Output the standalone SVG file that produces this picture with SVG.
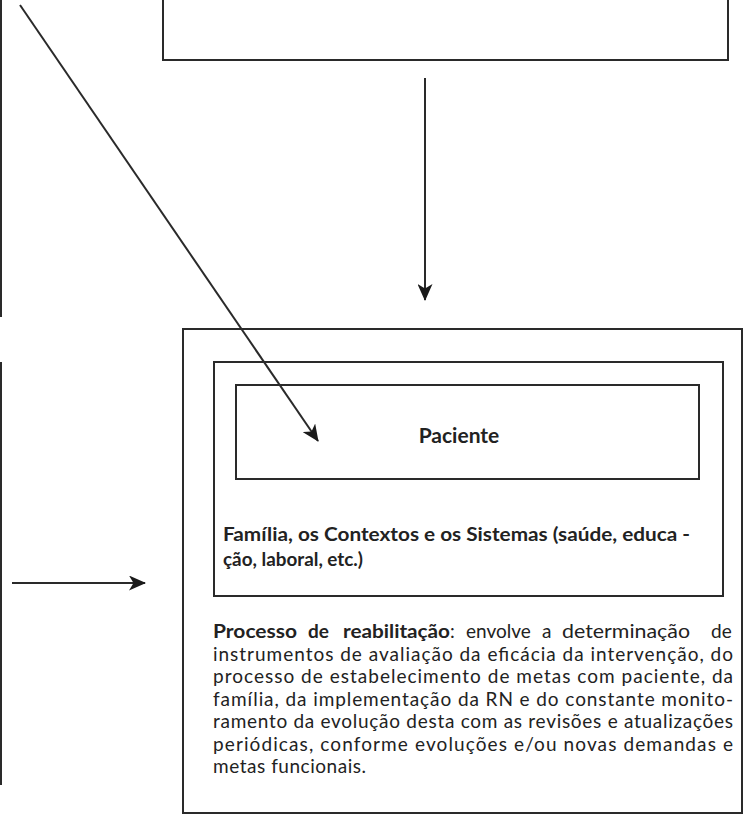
<svg xmlns="http://www.w3.org/2000/svg" width="744" height="815" viewBox="0 0 744 815">
<defs>
<style>
.box{fill:none;stroke:#2a2a2a;stroke-width:2}
.edge{fill:none;stroke:#2a2a2a;stroke-width:2}
.t{font-family:Lato,"Open Sans","Liberation Sans",sans-serif;fill:#222;font-size:19px}
.b{font-weight:bold}
</style>
<marker id="ah" viewBox="0 0 17 15" refX="16" refY="7.5" markerWidth="17" markerHeight="15" markerUnits="userSpaceOnUse" orient="auto">
<path d="M0,0 L17,7.5 L0,15 L4.5,7.5 Z" fill="#1a1a1a"/>
</marker>
</defs>
<rect width="744" height="815" fill="#fff"/>
<g id="top-box"><rect class="box" x="163" y="-20" width="565" height="80"/></g>
<g id="left-box-1"><line class="box" x1="1" y1="0" x2="1" y2="317"/></g>
<g id="left-box-2"><line class="box" x1="1" y1="362" x2="1" y2="785"/></g>
<g id="processo">
<rect class="box" x="183" y="329" width="559" height="484"/>
<text class="t"><tspan class="b" x="213" y="638" textLength="84" lengthAdjust="spacingAndGlyphs">Processo</tspan><tspan class="b" x="308" y="638">de</tspan><tspan class="b" x="343" y="638" textLength="107" lengthAdjust="spacingAndGlyphs">reabilitação</tspan><tspan>:</tspan><tspan x="466" y="638">envolve</tspan><tspan x="542" y="638">a</tspan><tspan x="562" y="638" textLength="128" lengthAdjust="spacingAndGlyphs">determinação</tspan><tspan x="711" y="638">de</tspan></text>
<text class="t" x="213" y="661" textLength="520" lengthAdjust="spacing">instrumentos de avaliação da eficácia da intervenção, do</text>
<text class="t" x="213" y="683" textLength="520" lengthAdjust="spacing">processo de estabelecimento de metas com paciente, da</text>
<text class="t" x="213" y="706" textLength="520" lengthAdjust="spacing">família, da implementação da RN e do constante monito-</text>
<text class="t" x="213" y="728" textLength="520" lengthAdjust="spacing">ramento da evolução desta com as revisões e atualizações</text>
<text class="t" x="213" y="751" textLength="520" lengthAdjust="spacing">periódicas, conforme evoluções e/ou novas demandas e</text>
<text class="t" x="213" y="773" textLength="153" lengthAdjust="spacing">metas funcionais.</text>
</g>
<g id="familia">
<rect class="box" x="214" y="362" width="509" height="234"/>
<text class="t b" x="223" y="541" textLength="467" lengthAdjust="spacingAndGlyphs">Família, os Contextos e os Sistemas (saúde, educa -</text>
<text class="t b" x="223" y="566" textLength="140" lengthAdjust="spacingAndGlyphs">ção, laboral, etc.)</text>
</g>
<g id="paciente">
<rect class="box" x="236" y="385" width="463" height="94"/>
<text class="t b" x="459" y="443" text-anchor="middle" style="font-size:21px">Paciente</text>
</g>
<g id="connectors">
<line class="edge" x1="425" y1="78" x2="425" y2="300" marker-end="url(#ah)"/>
<line class="edge" x1="20" y1="5" x2="318" y2="441" marker-end="url(#ah)"/>
<line class="edge" x1="12" y1="583" x2="145" y2="583" marker-end="url(#ah)"/>
</g>
</svg>
